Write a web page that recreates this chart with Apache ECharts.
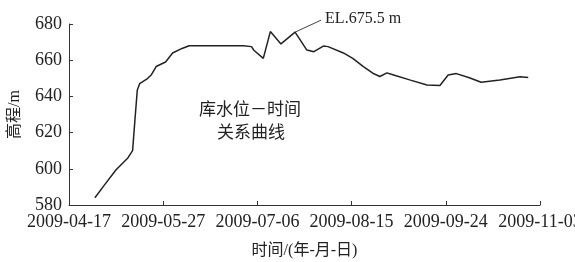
<!DOCTYPE html>
<html>
<head>
<meta charset="utf-8">
<script src="https://cdn.jsdelivr.net/npm/echarts@6/dist/echarts.min.js"></script>
<style>
  html, body { margin: 0; padding: 0; background: #fff; }
  #chart { width: 575px; height: 262px; }
</style>
</head>
<body>
<div id="chart"></div>
<script>
// tick labels, one every 40 days from 2009-04-17
var tickLabels = ['2009-04-17', '2009-05-27', '2009-07-06', '2009-08-15', '2009-09-24', '2009-11-03'];

// days after 2009-04-17
var days = [11, 15, 20, 25, 27, 28, 29, 30, 33, 35, 37, 41, 44, 48, 51, 60, 74, 77.5, 78.5, 82.5, 85.5,
            90, 96, 101, 104, 108, 110, 116.5, 120.5, 125, 129, 132, 135, 137.5, 145, 152, 157.5,
            161, 164.5, 170, 175, 183, 191.5, 195];
// reservoir level (m)
var levels = [584, 591, 599.5, 606, 610, 627, 643.5, 647, 649.5, 652, 656.5, 659, 664, 666.5, 668, 668, 668, 667.5, 665.5, 661, 675.8,
              669, 675.5, 665.6, 664.7, 667.8, 667.5, 664, 661, 656.5, 652.8, 651, 653, 652, 649, 646.3, 646,
              651.8, 652.6, 650.3, 647.8, 649, 650.8, 650.5];

var peakDay = 96, peakLevel = 675.5;

var serif = "'Liberation Serif', 'Noto Sans CJK SC', serif";

var data = [];
for (var i = 0; i < days.length; i++) {
    data.push([days[i], levels[i]]);
}

var chart = echarts.init(document.getElementById('chart'));

var option = {
    animation: false,
    backgroundColor: '#fff',
    textStyle: { fontFamily: serif, color: '#222' },
    grid: { left: 69, right: 35, top: 24, bottom: 57, outerBoundsMode: 'none', containLabel: false },
    xAxis: {
        type: 'value',
        min: 0,
        max: 200,
        interval: 40,
        name: '时间/(年-月-日)',
        nameLocation: 'middle',
        nameGap: 38,
        nameTextStyle: { fontSize: 16, color: '#222', fontFamily: serif },
        axisLine: { lineStyle: { color: '#333', width: 1 } },
        axisTick: { inside: true, length: 4, lineStyle: { color: '#333' } },
        splitLine: { show: false },
        axisLabel: {
            fontSize: 18,
            color: '#222',
            margin: 8,
            fontFamily: serif,
            formatter: function (v) { return tickLabels[Math.round(v / 40)]; }
        }
    },
    yAxis: {
        type: 'value',
        min: 580,
        max: 680,
        interval: 20,
        name: '高程/m',
        nameLocation: 'middle',
        nameGap: 46,
        nameTextStyle: { fontSize: 16, color: '#222', fontFamily: serif },
        axisLine: { show: true, lineStyle: { color: '#333', width: 1 } },
        axisTick: { show: true, inside: true, length: 4, lineStyle: { color: '#333' } },
        splitLine: { show: false },
        axisLabel: { fontSize: 18, color: '#222', margin: 7, fontFamily: serif }
    },
    graphic: [
        {
            id: 'note1',
            type: 'text',
            left: 199,
            top: 100,
            style: { text: '库水位－时间', font: "17px 'Noto Sans CJK SC'", fill: '#222' }
        },
        {
            id: 'note2',
            type: 'text',
            left: 217,
            top: 123,
            style: { text: '关系曲线', font: "17px 'Noto Sans CJK SC'", fill: '#222' }
        }
    ],
    series: [{
        type: 'line',
        data: data,
        showSymbol: false,
        smooth: false,
        lineStyle: { color: '#222', width: 1.5 }
    }]
};

chart.setOption(option);

// leader line + label for the peak level, placed from the data point
var p = chart.convertToPixel({ gridIndex: 0 }, [peakDay, peakLevel]);
chart.setOption({
    graphic: [
        {
            id: 'peakLine',
            type: 'line',
            shape: { x1: p[0], y1: p[1], x2: p[0] + 26, y2: p[1] - 12 },
            style: { stroke: '#444', lineWidth: 1 }
        },
        {
            id: 'peakText',
            type: 'text',
            x: p[0] + 30,
            y: p[1] - 13,
            style: {
                text: 'EL.675.5 m',
                font: "16px 'Liberation Serif'",
                fill: '#222',
                textVerticalAlign: 'middle'
            }
        }
    ]
});
</script>
</body>
</html>
